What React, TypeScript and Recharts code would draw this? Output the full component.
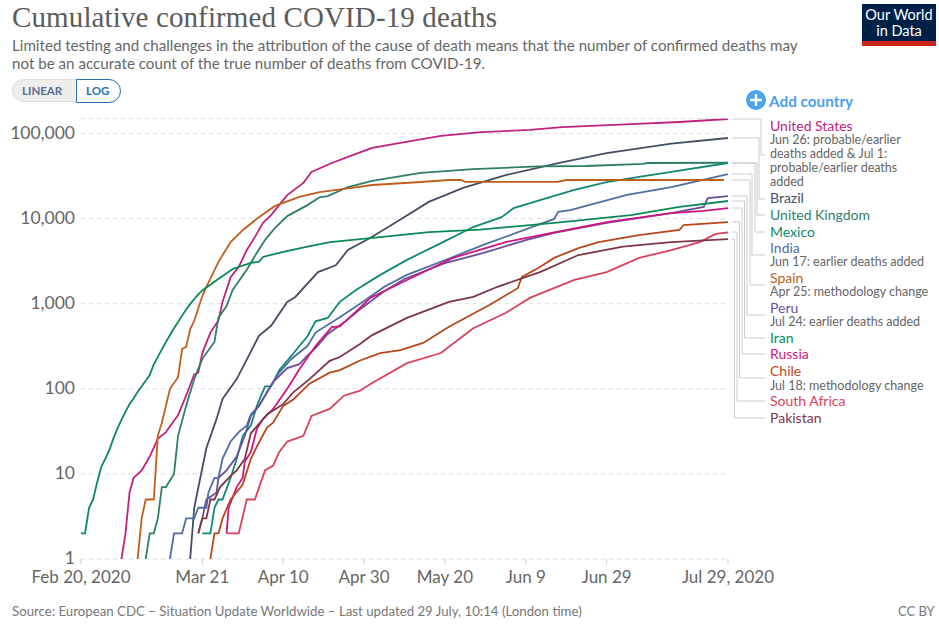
import { LineChart, Line, XAxis, YAxis, CartesianGrid } from "recharts";

type Pt = [number, number];

// [days since Feb 20 2020, cumulative deaths]
const unitedStates: Pt[] = [[10,1],[11,2],[12,6],[13,9],[15,11],[17,16],[19,26],[21,31],[24,49],[26,83],[28,148],[29,155],[30,263],[32,457],[34,640],[35,1050],[37,2050],[39,2700],[41,4270],[43,6050],[45,8900],[47,11000],[49,14400],[51,18900],[55,26300],[57,35300],[62,45000],[66,53000],[72,67600],[79,77500],[89,93500],[99,104000],[111,110000],[119,119000],[136,129000],[148,136500],[158,146000],[160,148000]];
const brazil: Pt[] = [[27,1],[27.5,2],[28,4],[29.5,9],[31,20],[33.5,44],[35,76],[38.5,130],[41.5,245],[44,420],[47,550],[51,1050],[53,1200],[58.6,2350],[63,2830],[66,4270],[71.5,5900],[78,9100],[86,15700],[94.5,22900],[105,32400],[118,44900],[130,58900],[146,75900],[160,88500]];
const unitedKingdom: Pt[] = [[16,1],[17,2],[18,2],[19,3],[20,7],[21,7],[23,10],[24,28],[26,63],[28,130],[30,225],[33,355],[34,690],[36,940],[37.5,1450],[41,2500],[43.5,3980],[45.5,5600],[48,7760],[51,10700],[56,14400],[59,17800],[61,18400],[66,23400],[72,27700],[84,34500],[97,38200],[113,41000],[125,41500],[139,43900],[140,45000],[160,45300]];
const mexico: Pt[] = [[30,2],[32,2],[33,4],[34,5],[35,5],[37,9],[38.5,15],[40,28],[42,37],[43.5,63],[45.5,107],[47,107],[49,165],[52.5,260],[56,415],[58,620],[61,680],[64,1050],[68,1450],[74,2180],[80.5,3250],[89,5150],[97,7950],[104,10400],[107,13300],[113.5,16500],[122,21700],[130,26900],[138,30900],[146,35300],[160,45000]];
const india: Pt[] = [[22,1],[23,2],[25,2],[26,3],[28,3],[29,4],[31,4],[31.5,6],[33,9],[34,9],[35,15],[37,24],[39,31],[41,37],[42,50],[44,63],[46,91],[49,155],[52,224],[56,318],[58,458],[64,695],[69,1000],[75,1580],[80.6,2180],[92,3540],[99.5,4900],[117,9900],[118,12000],[121,12600],[135,19000],[146,23400],[160,33400]];
const spain: Pt[] = [[14,1],[15,3],[16,5],[18,5],[19,28],[20,40],[22,100],[24,137],[25,295],[26,310],[27,500],[28,630],[30,1230],[31,1580],[34,3100],[37,5300],[40,7300],[44,10400],[48,14100],[54,18000],[59,20500],[67,23000],[72,24800],[84,26900],[91,28400],[94,28400],[95,27000],[118,27100],[120,28400],[159,28400]];
const peru: Pt[] = [[29,2],[30,3],[31,5],[33.5,6],[34,9],[36,11],[38.5,16],[40.5,28],[42,48],[44,63],[47.5,120],[51,175],[54,195],[56,245],[58,300],[61,440],[65,600],[69,860],[75,1400],[80,1950],[90,3000],[100,4000],[110,5600],[117,6800],[130,8900],[146,11600],[154,13700],[155,17400],[160,18400]];
const iran: Pt[] = [[0,2],[1,2],[2,4],[3,5],[4,8],[5,12],[6,15],[7,19],[8,26],[9,34],[10,43],[11,54],[12,66],[13,77],[14,92],[15,107],[16,124],[17,145],[18,194],[19,237],[20,291],[21,354],[22,429],[23,514],[24,611],[25,724],[26,853],[27,988],[28,1135],[29,1284],[30,1433],[33.6,1900],[37.6,2570],[42,3020],[44,3100],[45,3540],[50,4070],[56,4680],[61.6,5300],[71.5,5900],[86,6920],[98.7,7400],[111,8400],[119,9100],[136,11000],[148,13700],[160,16100]];
const russia: Pt[] = [[36,2],[36.5,4],[38.5,7],[40,9],[40.5,14],[42,18],[43.5,34],[45,44],[47.5,58],[51,100],[54,170],[58,318],[62,530],[64,540],[69,890],[71.5,1170],[80.6,1900],[92,3450],[105,5300],[117,6900],[130,9100],[146,11600],[154,12300],[160,13300]];
const chile: Pt[] = [[32,1],[33,2],[34,2],[35,3],[37,5],[40,7.5],[42,15],[43.5,21],[46,35],[47.5,40],[50,63],[52.5,75],[56.5,115],[61.5,155],[64,166],[69,215],[74,263],[79,285],[84.6,346],[91,535],[101,966],[108,1520],[109,2050],[113.5,2700],[117,3450],[123,4500],[128,5300],[138,6400],[148,7380],[149,8400],[160,9100]];
const southAfrica: Pt[] = [[36,2],[39,2],[41,5],[43,5],[45.5,11],[47.5,12.5],[49,18],[51,24],[55,28],[57,48],[61.5,58],[65,83],[69,95],[70,102],[72,117],[80.6,200],[89,263],[97,515],[105,776],[111,1170],[122,1900],[130,2350],[138,3450],[146,4270],[153,5300],[157,6600],[160,6900]];
const pakistan: Pt[] = [[29,2],[30,3],[31,3],[32,5],[33,5],[34.4,7],[37,9.5],[38.5,11],[40.5,15],[42,30],[46,50],[50,66],[52.5,91],[56.5,130],[61.5,213],[64,236],[69,337],[72,427],[80.6,680],[91,1050],[97,1200],[103,1580],[113.5,2350],[123,3730],[134,4680],[146,5300],[160,5750]];

const xTicks = [0, 30, 50, 70, 90, 110, 130, 160];
const xTickLabels = ["Feb 20, 2020", "Mar 21", "Apr 10", "Apr 30", "May 20", "Jun 9", "Jun 29", "Jul 29, 2020"];
const yTicks = [1, 10, 100, 1000, 10000, 100000];

const series = [
  { name: "United States", points: unitedStates, color: "#c0237f" },
  { name: "Brazil", points: brazil, color: "#444f66" },
  { name: "United Kingdom", points: unitedKingdom, color: "#2f7f68" },
  { name: "Mexico", points: mexico, color: "#0f8a74" },
  { name: "India", points: india, color: "#4f6ea3" },
  { name: "Spain", points: spain, color: "#bf5f1d" },
  { name: "Peru", points: peru, color: "#6b4f9e" },
  { name: "Iran", points: iran, color: "#0a8a55" },
  { name: "Russia", points: russia, color: "#cf1680" },
  { name: "Chile", points: chile, color: "#b8481c" },
  { name: "South Africa", points: southAfrica, color: "#d9425c" },
  { name: "Pakistan", points: pakistan, color: "#7d3648" },
];

const notes: Record<string, string[]> = {
  "United States": ["Jun 26: probable/earlier", "deaths added & Jul 1:", "probable/earlier deaths", "added"],
  India: ["Jun 17: earlier deaths added"],
  Spain: ["Apr 25: methodology change"],
  Peru: ["Jul 24: earlier deaths added"],
  Chile: ["Jul 18: methodology change"],
};

// label centre y, note row ys, connector [startY, elbowX, endY]
const labelLayout: Record<string, { y: number; noteY?: number[]; link: [number, number, number] }> = {
  "United States": { y: 126, noteY: [140, 154, 168, 182], link: [119, 761, 155] },
  Brazil: { y: 198, link: [138, 759, 199] },
  "United Kingdom": { y: 215, link: [163, 757, 215] },
  Mexico: { y: 232, link: [163, 755, 232] },
  India: { y: 248, noteY: [262], link: [174, 752, 255] },
  Spain: { y: 278, noteY: [292], link: [180, 750, 285] },
  Peru: { y: 308, noteY: [322], link: [196, 747, 315] },
  Iran: { y: 338, link: [201, 744.5, 338] },
  Russia: { y: 354, link: [208, 742, 354] },
  Chile: { y: 371, noteY: [386], link: [222, 739.5, 378] },
  "South Africa": { y: 401, link: [232, 737, 401] },
  Pakistan: { y: 418, link: [239, 734.5, 418] },
};

const lato = "Lato, sans-serif";

function abs(left: number, cy: number, extra: React.CSSProperties, h = 12): React.CSSProperties {
  return { position: "absolute", left, top: cy - h / 2, height: h, lineHeight: `${h}px`, whiteSpace: "nowrap", fontFamily: lato, ...extra };
}

export default function App() {
  return (
    <div style={{ position: "absolute", left: 0, top: 0, width: 939, height: 626, background: "#fff", overflow: "hidden" }}>
      <div style={{ position: "absolute", left: 12, top: -1, height: 36, lineHeight: "36px", fontFamily: "'Liberation Serif', serif", fontSize: 29, color: "#5b5b5b", whiteSpace: "nowrap", letterSpacing: 0.12 }}>
        Cumulative confirmed COVID-19 deaths
      </div>
      <div style={abs(12, 45, { fontSize: 15.15, color: "#666" }, 16)}>
        Limited testing and challenges in the attribution of the cause of death means that the number of confirmed deaths may
      </div>
      <div style={abs(12, 63, { fontSize: 15.15, color: "#666" }, 16)}>
        not be an accurate count of the true number of deaths from COVID-19.
      </div>

      <div style={{ position: "absolute", left: 12, top: 79, width: 66, height: 23, boxSizing: "border-box", background: "#eee", border: "1px solid #ddd", borderRadius: "12px 0 0 12px" }} />
      <div style={{ position: "absolute", left: 76, top: 79, width: 45, height: 24, boxSizing: "border-box", background: "#fff", border: "1px solid #2470b8", borderRadius: "0 12px 12px 0" }} />
      <div style={abs(22, 91, { fontSize: 11.5, fontWeight: 700, color: "#56708f" })}>LINEAR</div>
      <div style={abs(86, 91, { fontSize: 11.5, fontWeight: 700, color: "#2470b8" })}>LOG</div>

      <div style={{ position: "absolute", left: 862, top: 4, width: 74, height: 42, background: "#002147", borderBottom: "5px solid #ce261e", boxSizing: "border-box", color: "#fff", fontFamily: lato, fontSize: 14.5, lineHeight: "16px", textAlign: "center", paddingTop: 3 }}>
        Our World
        <br />
        in Data
      </div>

      <LineChart width={939} height={626} data={[]} margin={{ top: 118.5, right: 211, bottom: 37, left: 0 }} style={{ position: "absolute", left: 0, top: 0 }}>
        <CartesianGrid vertical={false} stroke="#ddd" strokeDasharray="4 4" />
        <XAxis
          type="number"
          dataKey="day"
          domain={[0, 160]}
          ticks={xTicks}
          interval={0}
          height={30}
          tickFormatter={(v: number) => xTickLabels[xTicks.indexOf(v)]}
          axisLine={false}
          tickLine={{ stroke: "#ccc" }}
          tickSize={5}
          tick={{ fill: "#666", fontSize: 17, fontFamily: lato }}
          tickMargin={7}
        />
        <YAxis
          type="number"
          scale="log"
          domain={[1, 150000]}
          ticks={yTicks}
          interval={0}
          allowDataOverflow
          width={81}
          axisLine={false}
          tickLine={false}
          tickSize={0}
          tickMargin={6}
          tickFormatter={(v: number) => v.toLocaleString("en-US")}
          tick={{ fill: "#666", fontSize: 17.5, fontFamily: lato, dy: -1 }}
        />
        {series.map((s) => (
          <Line
            key={s.name}
            data={s.points.map(([day, deaths]) => ({ day, deaths }))}
            dataKey="deaths"
            name={s.name}
            type="linear"
            stroke={s.color}
            strokeWidth={1.8}
            dot={false}
            isAnimationActive={false}
          />
        ))}
      </LineChart>

      <svg width={939} height={626} style={{ position: "absolute", left: 0, top: 0, pointerEvents: "none" }}>
        {series.map((s) => {
          const [y0, ex, y1] = labelLayout[s.name].link;
          return <polyline key={s.name} points={`732,${y0} ${ex},${y0} ${ex},${y1} 765,${y1}`} fill="none" stroke="#ccc" strokeWidth={1} />;
        })}
        <circle cx={756} cy={100} r={10} fill="#4aa3f0" />
        <path d="M750 100H762M756 94V106" stroke="#fff" strokeWidth={2.4} />
      </svg>

      <div style={abs(769, 101, { fontSize: 15.3, fontWeight: 700, color: "#4a9fee" })}>Add country</div>

      {series.map((s) => {
        const l = labelLayout[s.name];
        return (
          <div key={s.name}>
            <div style={abs(770, l.y, { fontSize: 14, color: s.color })}>{s.name}</div>
            {(notes[s.name] ?? []).map((n, i) => (
              <div key={n} style={abs(770, l.noteY![i], { fontSize: 12.5, color: "#666" })}>{n}</div>
            ))}
          </div>
        );
      })}

      <div style={abs(12, 611, { fontSize: 13.25, color: "#777" })}>
        Source: European CDC – Situation Update Worldwide – Last updated 29 July, 10:14 (London time)
      </div>
      <div style={abs(898, 611, { fontSize: 13, color: "#777" })}>CC BY</div>
    </div>
  );
}
